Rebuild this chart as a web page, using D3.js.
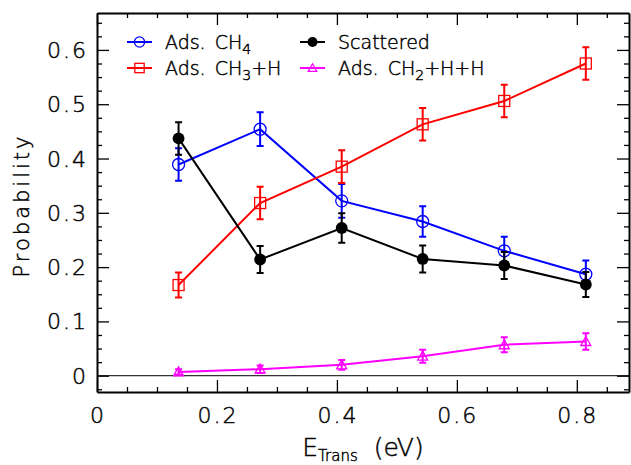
<!DOCTYPE html>
<html>
<head>
<meta charset="utf-8">
<script src="https://cdn.jsdelivr.net/npm/d3@7"></script>
<style>
  body { margin: 0; background: #fff; }
  text { font-family: "DejaVu Sans", sans-serif; font-weight: 200; fill: #000; stroke: #000; stroke-width: 0.45px; }
  .tick-label { font-size: 22px; letter-spacing: 2px; }
  .legend-label { font-size: 19px; }
</style>
</head>
<body>
<div id="chart"></div>
<script>
// ---------------------------------------
// data
const energies = [0.136, 0.272, 0.408, 0.543, 0.679, 0.815];

const adsCH4 = [0.389, 0.454, 0.322, 0.284, 0.230, 0.187];
const adsCH4Err = [0.030, 0.031, 0.031, 0.028, 0.026, 0.025];

const adsCH3H = [0.167, 0.318, 0.385, 0.463, 0.506, 0.575];
const adsCH3HErr = [0.023, 0.030, 0.030, 0.030, 0.030, 0.030];

const scattered = [0.437, 0.214, 0.272, 0.215, 0.203, 0.168];
const scatteredErr = [0.030, 0.025, 0.027, 0.025, 0.025, 0.023];

const adsCH2HH = [0.007, 0.012, 0.020, 0.036, 0.057, 0.063];
const adsCH2HHErr = [0.005, 0.007, 0.009, 0.012, 0.014, 0.015];

const xTicks = [0, 0.2, 0.4, 0.6, 0.8];
const yTicks = [0, 0.1, 0.2, 0.3, 0.4, 0.5, 0.6];

// ---------------------------------------
// svg params
const width = 631;
const height = 465;
const plot = {left: 97, right: 629, top: 13, bottom: 392};

const svg = d3.select("#chart")
    .append("svg")
    .attr("width", width)
    .attr("height", height);

const x = d3.scaleLinear()
    .domain([0, 0.887])
    .range([plot.left, plot.right]);

const y = d3.scaleLinear()
    .domain([-0.03, 0.668])
    .range([plot.bottom, plot.top]);

// series: label parts (before, main, subscript, rest), colour, marker
const series = [
  {vals: adsCH4, err: adsCH4Err, color: "#0000ff", marker: "circle", label: ["Ads.", "CH", "4", ""]},
  {vals: adsCH3H, err: adsCH3HErr, color: "#ff0000", marker: "square", label: ["Ads.", "CH", "3", "+H"]},
  {vals: scattered, err: scatteredErr, color: "#000000", marker: "dot", label: ["Scattered", "", "", ""]},
  {vals: adsCH2HH, err: adsCH2HHErr, color: "#ff00ff", marker: "triangle", label: ["Ads.", "CH", "2", "+H+H"]},
];

// ---------------------------------------
// zero line
svg.append("line")
    .attr("x1", plot.left).attr("x2", plot.right)
    .attr("y1", y(0)).attr("y2", y(0))
    .attr("stroke", "#000")
    .attr("stroke-width", 1);

// ---------------------------------------
// axes: ticks point inward on all four sides
const xMinor = [0.05, 0.1, 0.15, 0.25, 0.3, 0.35, 0.45, 0.5, 0.55, 0.65, 0.7, 0.75, 0.85];
const yMinor = d3.range(-0.025, 0.668, 0.025).filter((v) => Math.abs(v * 10 - Math.round(v * 10)) > 1e-6);

function drawAxis(axis, scale, major, minor, translate) {
  const g = svg.append("g")
      .attr("transform", translate)
      .call(axis(scale).tickValues(major).tickSizeInner(-12).tickSizeOuter(0).tickFormat(""));
  g.select(".domain").attr("stroke-width", 2);
  g.selectAll(".tick line").attr("stroke-width", 1.3);
  svg.append("g")
      .attr("transform", translate)
      .call(axis(scale).tickValues(minor).tickSizeInner(-5).tickSizeOuter(0).tickFormat(""))
      .call((s) => s.select(".domain").remove())
      .selectAll(".tick line").attr("stroke-width", 1.3);
}

drawAxis(d3.axisBottom, x, xTicks, xMinor, `translate(0,${plot.bottom})`);
drawAxis(d3.axisTop, x, xTicks, xMinor, `translate(0,${plot.top})`);
drawAxis(d3.axisLeft, y, yTicks, yMinor, `translate(${plot.left},0)`);
drawAxis(d3.axisRight, y, yTicks, yMinor, `translate(${plot.right},0)`);

// tick labels
svg.append("g")
    .selectAll("text")
    .data(xTicks)
    .enter()
    .append("text")
    .attr("class", "tick-label")
    .attr("x", (d) => x(d) + 1)
    .attr("y", 423)
    .attr("text-anchor", "middle")
    .text((d) => d === 0 ? "0" : d.toFixed(1));

svg.append("g")
    .selectAll("text")
    .data(yTicks)
    .enter()
    .append("text")
    .attr("class", "tick-label")
    .attr("x", 88)
    .attr("y", (d) => y(d) + 8)
    .attr("text-anchor", "end")
    .text((d) => d === 0 ? "0" : d.toFixed(1));

// axis titles
svg.append("text")
    .attr("transform", `translate(28.5,${(plot.top + plot.bottom) / 2 + 3}) rotate(-90)`)
    .attr("text-anchor", "middle")
    .style("font-size", "21px")
    .style("letter-spacing", "3px")
    .text("Probability");

const xTitle = svg.append("text")
    .attr("x", (plot.left + plot.right) / 2)
    .attr("y", 456)
    .attr("text-anchor", "middle")
    .style("font-size", "25px")
    .attr("xml:space", "preserve");
xTitle.append("tspan").text("E");
xTitle.append("tspan").attr("dy", 5).style("font-size", "15px").text("Trans");
xTitle.append("tspan").attr("dy", -5).text("  (eV)");

// ---------------------------------------
// markers
function marker(g, type, color, s) {
  if (type === "circle") {
    g.append("circle").attr("r", 6 * s).attr("fill", "none")
        .attr("stroke", color).attr("stroke-width", 1.3);
  } else if (type === "dot") {
    g.append("circle").attr("r", 5.9 * s).attr("fill", color);
  } else if (type === "square") {
    const h = 5.5 * s;
    g.append("rect").attr("x", -h).attr("y", -h).attr("width", 2 * h).attr("height", 2 * h)
        .attr("fill", "none").attr("stroke", color).attr("stroke-width", 1.3);
  } else if (type === "triangle") {
    const h = 5 * s;
    g.append("path").attr("d", `M${-h},${h * 0.8}L${h},${h * 0.8}L0,${-h}Z`)
        .attr("fill", "none").attr("stroke", color).attr("stroke-width", 1.3);
  }
}

// ---------------------------------------
// lines, error bars, points
const line = d3.line()
    .x((d) => x(d.e))
    .y((d) => y(d.v));

series.forEach((s) => {
  const pts = energies.map((e, i) => ({e: e, v: s.vals[i], err: s.err[i]}));

  svg.append("path")
      .datum(pts)
      .attr("d", line)
      .attr("fill", "none")
      .attr("stroke", s.color)
      .attr("stroke-width", 2);

  const pt = svg.append("g")
      .selectAll("g")
      .data(pts)
      .enter()
      .append("g")
      .attr("transform", (d) => `translate(${x(d.e)},0)`);

  // error bar + caps
  pt.append("path")
      .attr("d", (d) => {
        const y0 = y(d.v - d.err);
        const y1 = y(d.v + d.err);
        return `M0,${y0}V${y1}M-3.5,${y0}H3.5M-3.5,${y1}H3.5`;
      })
      .attr("fill", "none")
      .attr("stroke", s.color)
      .attr("stroke-width", 2);

  pt.each(function(d) {
    const g = d3.select(this).append("g").attr("transform", `translate(0,${y(d.v)})`);
    marker(g, s.marker, s.color, 1);
  });
});

// ---------------------------------------
// legend, two columns
const legendPos = [[127, 42], [127, 68], [300, 42], [300, 68]];

series.forEach((s, i) => {
  const [lx, ly] = legendPos[i];
  const g = svg.append("g").attr("transform", `translate(${lx},${ly})`);
  g.append("line")
      .attr("x1", 0).attr("x2", 25)
      .attr("stroke", s.color)
      .attr("stroke-width", 2);
  const m = g.append("g").attr("transform", "translate(12.5,0)");
  marker(m, s.marker, s.color, 0.85);

  const t = g.append("text")
      .attr("class", "legend-label")
      .attr("x", 38)
      .attr("y", 7);
  t.append("tspan").text(s.label[0]);
  if (s.label[1]) {
    t.append("tspan").attr("dx", 9).text(s.label[1]);
    t.append("tspan").attr("dy", 5).style("font-size", "14px").text(s.label[2]);
    t.append("tspan").attr("dy", -5).text(s.label[3]);
  }
});
</script>
</body>
</html>
